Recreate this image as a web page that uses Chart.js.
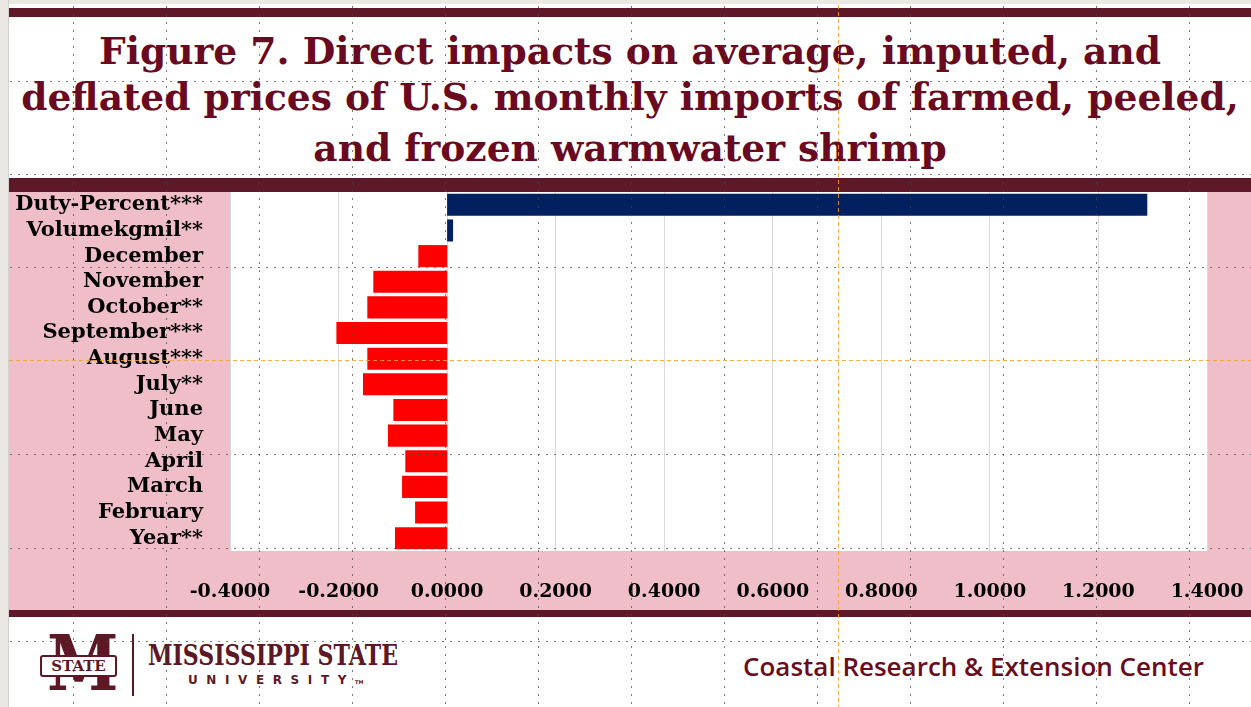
<!DOCTYPE html>
<html>
<head>
<meta charset="utf-8">
<script src="https://cdn.jsdelivr.net/npm/chart.js@4.4.0/dist/chart.umd.min.js"></script>
<style>
  html, body { margin: 0; padding: 0; }
  body { width: 1251px; height: 707px; position: relative; overflow: hidden; background: #fff; font-family: "DejaVu Serif", serif; }
  .edge-left { position: absolute; left: 0; top: 0; width: 9px; height: 707px; background: #ebe8e4; border-right: 1px solid #d4d0cb; box-sizing: border-box; }
  .edge-top { position: absolute; left: 0; top: 0; width: 1251px; height: 4px; background: #ebe8e4; }
  .band { position: absolute; left: 9px; width: 1242px; background: #5e1828; }
  .title-line { position: absolute; left: 9px; width: 1242px; text-align: center; white-space: nowrap; color: #6a0a20; font-weight: bold; font-family: "DejaVu Serif", serif; }
  #chartBox { position: absolute; left: 9px; top: 192px; width: 1242px; height: 418px; background: #efbec8; }
  #logoM { position: absolute; left: 47px; top: 626px; font: bold 76px "DejaVu Serif", serif; color: #5d1725; line-height: 76px; transform-origin: 0 0; }
  #logoBanner { position: absolute; left: 40px; top: 655px; width: 73px; height: 18px; background: #fff; border: 2px solid #5d1725; border-radius: 3px;
                font: bold 15px "DejaVu Serif", serif; color: #5d1725; text-align: center; line-height: 18px; }
  #logoRule { position: absolute; left: 132px; top: 634px; width: 2px; height: 62px; background: #5d1725; }
  #msu { position: absolute; left: 148px; top: 641px; font: bold 27px "DejaVu Serif", serif; color: #5d1725; white-space: nowrap; transform-origin: 0 0; line-height: 30px; }
  #univ { position: absolute; left: 188px; top: 673px; font: bold 12px "DejaVu Sans", sans-serif; color: #5d1725; letter-spacing: 8.6px; white-space: nowrap; }
  #center { position: absolute; left: 743px; top: 651px; font: 600 26px "Open Sans", "DejaVu Sans", sans-serif; color: #6a0c1c; white-space: nowrap; transform-origin: 0 0; line-height: 30px; }
  #guides { position: absolute; left: 0; top: 0; pointer-events: none; }
</style>
</head>
<body>
<div class="edge-top"></div>
<div class="edge-left"></div>
<div class="band" style="top:8px;height:9px"></div>
<div class="title-line" id="t1" style="top:29px">Figure 7. Direct impacts on average, imputed, and</div>
<div class="title-line" id="t2" style="top:75px">deflated prices of U.S. monthly imports of farmed, peeled,</div>
<div class="title-line" id="t3" style="top:126px">and frozen warmwater shrimp</div>
<div class="band" style="top:178px;height:14px"></div>
<div id="chartBox"><canvas id="impactChart" width="1242" height="418"></canvas></div>
<div class="band" style="top:610px;height:7px"></div>
<div id="logoM">M</div>
<div id="logoBanner">STATE</div>
<div id="logoRule"></div>
<div id="msu">MISSISSIPPI STATE</div>
<div id="univ">UNIVERSITY<span style="font-size:5px;letter-spacing:0">TM</span></div>
<div id="center">Coastal Research &amp; Extension Center</div>
<canvas id="guides" width="1251" height="707"></canvas>

<script>
// values (coefficient estimates)
const categories = ["Duty-Percent***", "Volumekgmil**", "December", "November", "October**", "September***",
                    "August***", "July**", "June", "May", "April", "March", "February", "Year**"];
const impacts = [1.29, 0.011, -0.053, -0.136, -0.147, -0.204, -0.147, -0.155, -0.099, -0.109, -0.077, -0.083, -0.059, -0.096];
const axisMin = -0.4;
const axisMax = 1.4;
const axisStep = 0.2;

const positiveColor = "#002060";
const negativeColor = "#ff0000";

// stretch a line of text to a target width
function fitWidth(id, target) {
    const el = document.getElementById(id);
    const w = el.getBoundingClientRect().width;
    el.style.transform = "scaleX(" + (target / w) + ")";
}

function sizeTitle() {
    // the longest line spans ~1218px in the original
    const probe = document.createElement("canvas").getContext("2d");
    probe.font = "bold 40px 'DejaVu Serif'";
    const w = probe.measureText(document.getElementById("t2").textContent).width;
    const size = 40 * 1218 / w;
    ["t1", "t2", "t3"].forEach((id) => {
        document.getElementById(id).style.fontSize = size.toFixed(2) + "px";
    });
}

const plotBackground = {
    id: "plotBackground",
    beforeDraw(chart) {
        const { ctx, chartArea } = chart;
        ctx.save();
        ctx.fillStyle = "#ffffff";
        ctx.fillRect(chartArea.left, chartArea.top, chartArea.right - chartArea.left, chartArea.bottom - chartArea.top);
        ctx.restore();
    }
};

// slide-editor guide lines visible in the screenshot
function drawGuides() {
    const g = document.getElementById("guides").getContext("2d");
    g.fillStyle = "rgba(70,70,70,0.7)";
    for (let x = 73; x < 1251; x += 93) {
        for (let y = 6; y < 707; y += 8) g.fillRect(x, y, 1, 2);
    }
    [81, 174, 267, 454, 548, 641].forEach((y) => {
        for (let x = 10; x < 1251; x += 8) g.fillRect(x, y, 2, 1);
    });
    g.strokeStyle = "rgba(245,160,40,0.85)";
    g.lineWidth = 1;
    g.setLineDash([4, 3]);
    g.beginPath();
    g.moveTo(838.5, 5); g.lineTo(838.5, 707);
    g.moveTo(9, 360.5); g.lineTo(1251, 360.5);
    g.stroke();
}

document.addEventListener("DOMContentLoaded", function () {
    sizeTitle();
    fitWidth("msu", 250);
    fitWidth("center", 461);
    document.getElementById("logoM").style.transform = "scaleX(0.85)";
    drawGuides();

    const ctx = document.getElementById("impactChart").getContext("2d");
    new Chart(ctx, {
        type: "bar",
        data: {
            labels: categories,
            datasets: [{
                data: impacts,
                backgroundColor: impacts.map((v) => (v >= 0 ? positiveColor : negativeColor)),
                borderWidth: 0,
                barPercentage: 0.86,
                categoryPercentage: 1.0
            }]
        },
        options: {
            indexAxis: "y",
            responsive: false,
            animation: false,
            layout: { padding: { left: 0, right: 44, top: 0, bottom: 0 } },
            plugins: { legend: { display: false }, tooltip: { enabled: false } },
            scales: {
                x: {
                    min: axisMin,
                    max: axisMax,
                    afterFit: (scale) => {
                        scale.height = 59;
                        scale.paddingLeft = 0;
                        scale.paddingRight = 0;
                    },
                    ticks: {
                        stepSize: axisStep,
                        padding: 30,
                        color: "#000",
                        font: { family: "DejaVu Serif", weight: "bold", size: 19 },
                        callback: (v) => (Math.abs(v) < 1e-9 ? 0 : v).toFixed(4)
                    },
                    grid: { color: "#d9d9d9", lineWidth: 1, drawTicks: false },
                    border: { display: false }
                },
                y: {
                    afterFit: (scale) => {
                        scale.width = 221;
                        scale.paddingTop = 0;
                        scale.paddingBottom = 0;
                    },
                    ticks: {
                        autoSkip: false,
                        padding: 27,
                        color: "#000",
                        font: { family: "DejaVu Serif", weight: "bold", size: 21 }
                    },
                    grid: { display: false, drawTicks: false },
                    border: { display: false }
                }
            }
        },
        plugins: [plotBackground]
    });
});
</script>
</body>
</html>
